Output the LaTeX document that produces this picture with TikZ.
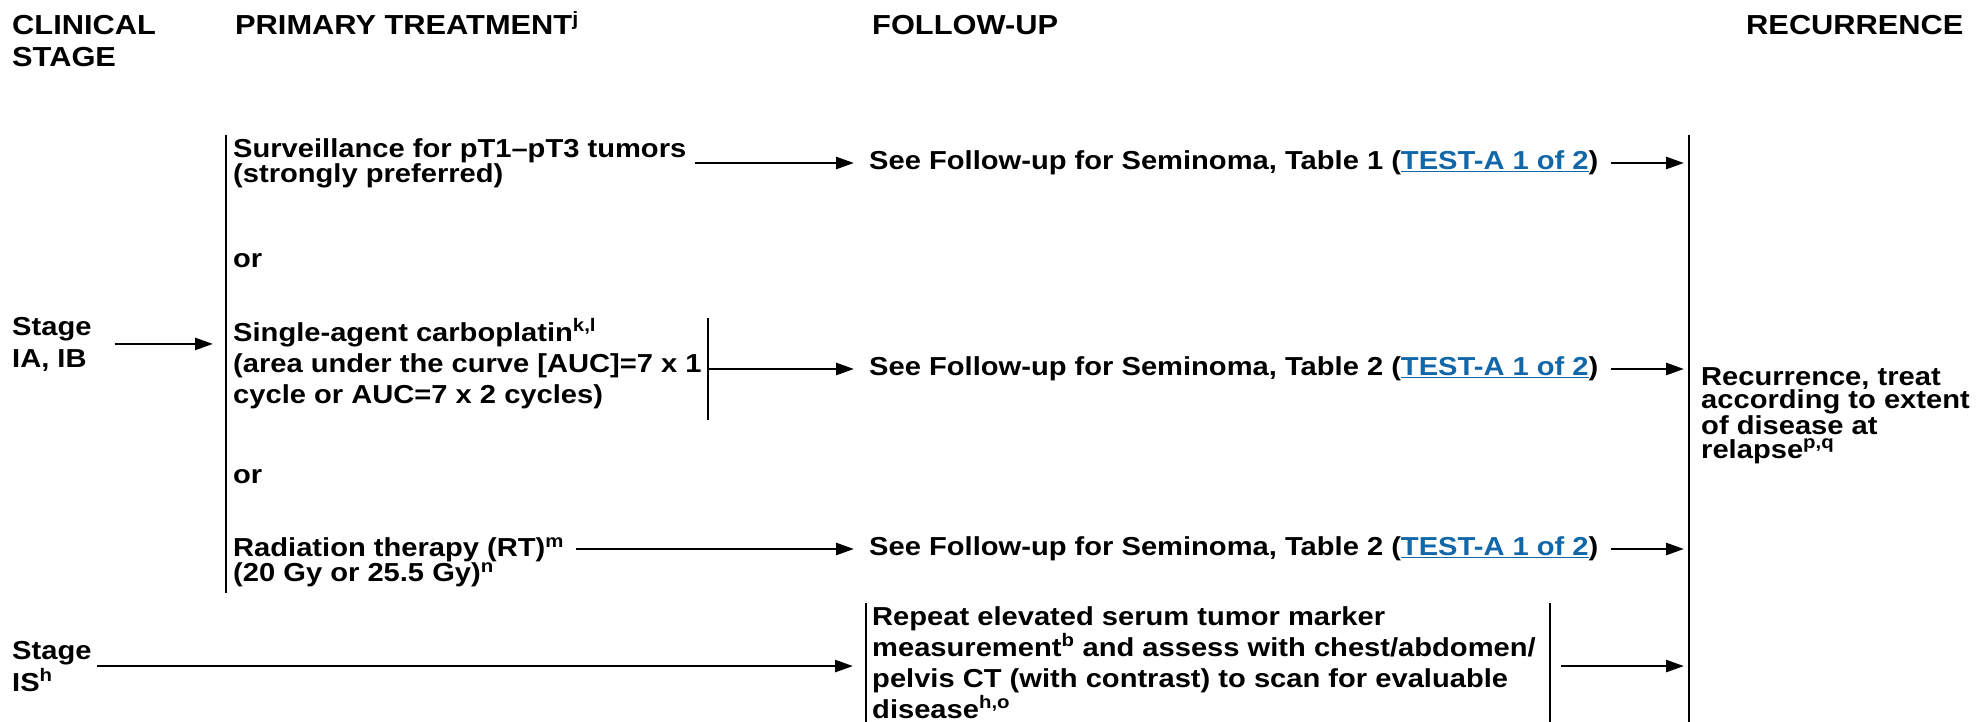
\documentclass[tikz,border=0pt]{standalone}
\usepackage{fontspec}
\setmainfont{Liberation Sans}[FakeStretch=1.12]
\usepackage{xcolor}
\usetikzlibrary{arrows.meta, positioning, calc}
\definecolor{linkblue}{RGB}{18,103,168}
\newcommand{\testlink}{\textcolor{linkblue}{\underline{TEST-A 1 of 2}}}

\begin{document}
\begin{tikzpicture}[x=1pt, y=-1pt,
    hdr/.style={anchor=base west, inner sep=0pt, align=left, font=\fontsize{27.5}{32}\selectfont\bfseries},
    stagebox/.style={anchor=base west, inner sep=0pt, align=left, font=\fontsize{26}{32}\selectfont\bfseries},
    txt/.style={anchor=base west, inner sep=0pt, align=left, font=\fontsize{26}{23.5}\selectfont\bfseries},
    fu/.style={anchor=west, inner sep=0pt, font=\fontsize{26}{23.5}\selectfont\bfseries},
    bar/.style={line width=2.4pt},
    arr/.style={line width=2.6pt, -{Triangle[length=18pt,width=12pt]}}]

    \useasboundingbox (0,0) rectangle (1976,722);

    % Column headers (multi-line nodes sit on their last baseline)
    \node[hdr] (hclin) at (12,67) {CLINICAL\\STAGE};
    \node[hdr] (hprim) at (235,35) {PRIMARY TREATMENT\textsuperscript{j}};
    \node[hdr] (hfol) at (872,35) {FOLLOW-UP};
    \node[hdr] (hrec) at (1746,35) {RECURRENCE};

    % Stages
    \node[stagebox] (stageA) at (12,367) {Stage\\IA, IB};
    \node[stagebox] (stageB) at (12,691) {Stage\\IS\textsuperscript{h}};

    % Primary treatment options
    \coordinate (ptop) at (226,135);
    \coordinate (pbot) at (226,593);
    \draw[bar] (ptop) -- (pbot);
    \node[txt, font=\fontsize{26}{25}\selectfont\bfseries] (surv) at (233,183) {Surveillance for pT1--pT3 tumors\\(strongly preferred)};
    \node[txt] (or1) at (233,267) {or};
    \node[txt, font=\fontsize{26}{31}\selectfont\bfseries] (carbo) at (233,403) {Single-agent carboplatin\textsuperscript{k,l}\\(area under the curve [AUC]=7 x 1\\cycle or AUC=7 x 2 cycles)};
    \node[txt] (or2) at (233,483) {or};
    \node[txt] (rad) at (233,581.5) {Radiation therapy (RT)\textsuperscript{m}\\(20 Gy or 25.5 Gy)\textsuperscript{n}};
    \coordinate (ctop) at (708,318);
    \coordinate (cbot) at (708,420);
    \draw[bar] (ctop) -- (cbot);

    % Follow-up
    \node[fu] (fu1) at (869,163) {See Follow-up for Seminoma, Table 1 (\testlink)};
    \node[fu] (fu2) at (869,369) {See Follow-up for Seminoma, Table 2 (\testlink)};
    \node[fu] (fu3) at (869,549) {See Follow-up for Seminoma, Table 2 (\testlink)};
    \node[txt, font=\fontsize{26}{31}\selectfont\bfseries] (rep) at (872,718)
        {Repeat elevated serum tumor marker\\measurement\textsuperscript{b} and assess with chest/abdomen/\\pelvis CT (with contrast) to scan for evaluable\\disease\textsuperscript{h,o}};
    \coordinate (rleft) at (866,603);
    \coordinate (rright) at (1550,603);
    \draw[bar] (rleft) -- (866,722);
    \draw[bar] (rright) -- (1550,722);

    % Recurrence
    \coordinate (rtop) at (1689,135);
    \draw[bar] (rtop) -- (1689,722);
    \node[txt, font=\fontsize{26}{23.7}\selectfont\bfseries] (rec) at (1701,458)
        {Recurrence, treat\\according to extent\\of disease at\\relapse\textsuperscript{p,q}};

    % Arrows
    \draw[arr] ($(stageA.east)+(23,0)$) -- ($(ptop |- stageA.east)+(-13,0)$);
    \draw[arr] ($(surv.east |- fu1.west)+(8,0)$) -- ($(fu1.west)+(-15,0)$);
    \draw[arr] (ctop |- fu2.west) -- ($(fu2.west)+(-15,0)$);
    \draw[arr] ($(rad.east |- fu3.west)+(12,0)$) -- ($(fu3.west)+(-15,0)$);
    \draw[arr] ($(fu1.east)+(12,0)$) -- ($(rtop |- fu1.east)+(-5,0)$);
    \draw[arr] ($(fu2.east)+(12,0)$) -- ($(rtop |- fu2.east)+(-5,0)$);
    \draw[arr] ($(fu3.east)+(12,0)$) -- ($(rtop |- fu3.east)+(-5,0)$);
    \draw[arr] ($(stageB.east)+(5,0)$) -- ($(rleft |- stageB.east)+(-13,0)$);
    \draw[arr] ($(rright |- stageB.east)+(11,0)$) -- ($(rtop |- stageB.east)+(-5,0)$);
\end{tikzpicture}
\end{document}
